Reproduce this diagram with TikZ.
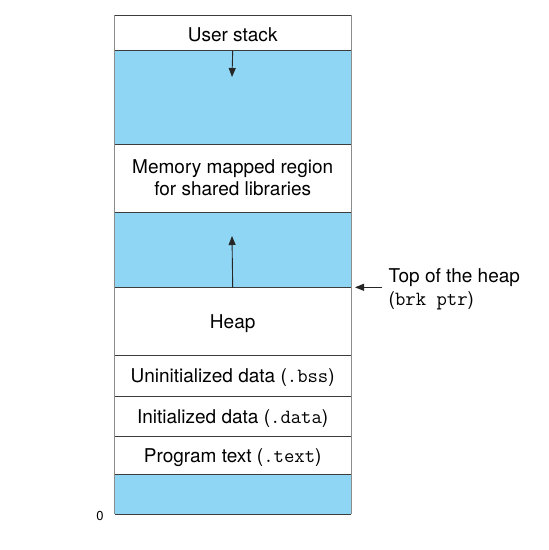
\documentclass[tikz,border=0pt]{standalone}
\usepackage{fontspec}
\setmainfont{TeX Gyre Heros}
\setmonofont[Scale=1.06]{Latin Modern Mono}
\usetikzlibrary{arrows.meta}
\definecolor{segblue}{RGB}{143,214,244}
\definecolor{sideline}{RGB}{140,140,140}
\definecolor{sepline}{RGB}{60,60,60}
\begin{document}
\begin{tikzpicture}[x=1pt,y=-1pt,
  seg/.style={rectangle,inner sep=0pt,minimum width=236pt,anchor=north west},
  segtext/.style={label={[font=\fontsize{19}{22}\selectfont,align=center,yshift=-2pt]center:#1}},
  segtextb/.style={label={[font=\fontsize{19}{22}\selectfont,align=center,yshift=0.5pt]center:#1}},
  blueseg/.style={seg,fill=segblue},
  sep/.style={draw=sepline,line width=0.8pt},
  side/.style={draw=sideline,line width=0.8pt},
  arr/.style={draw=black!85,line width=0.9pt,-{Triangle[length=9pt,width=7pt]}}]
\useasboundingbox (0,0) rectangle (549,550);
\node[seg,minimum height=35.4pt,segtext={User stack}] (stack) at (114.5,15.3) {};
\node[blueseg,minimum height=93.3pt] (blue1) at (114.5,50.7) {};
\node[seg,minimum height=68.3pt,segtextb={Memory mapped region\\for shared libraries}] (mmap) at (114.5,144) {};
\node[blueseg,minimum height=75pt] (blue2) at (114.5,212.3) {};
\node[seg,minimum height=67.7pt,segtext={Heap}] (heap) at (114.5,287.3) {};
\node[seg,minimum height=41pt,segtext={Uninitialized data (\texttt{.bss})}] (bss) at (114.5,355) {};
\node[seg,minimum height=40.7pt,segtext={Initialized data (\texttt{.data})}] (data) at (114.5,396) {};
\node[seg,minimum height=37.3pt,segtext={Program text (\texttt{.text})}] (text) at (114.5,436.7) {};
\node[blueseg,minimum height=40pt] (blue3) at (114.5,474) {};
% sides
\draw[side] (stack.north west) -- (blue3.south west);
\draw[side] (stack.north east) -- (blue3.south east);
% separators
\foreach \n in {stack,blue1,mmap,blue2,heap,bss,data,text,blue3}{
  \draw[sep] (\n.north west) -- (\n.north east);
}
\draw[sep] (blue3.south west) -- (blue3.south east);
% arrows
\coordinate (stacktip) at (232,77);
\coordinate (heaptip) at (232,236);
\draw[arr] (blue1.north) -- (stacktip);
\draw[arr] (blue2.south) -- (heaptip);
% brk label
\node[anchor=west,align=left,inner sep=0pt,font=\fontsize{19}{23}\selectfont] (brk) at (388.5,289) {Top of the heap\\(\texttt{brk ptr})};
\coordinate (brkend) at (355,287.3);
\coordinate (brkstart) at (382,287.3);
\draw[arr] (brkstart) -- (brkend);
\node[font=\fontsize{13}{15}\selectfont,inner sep=0pt] (zero) at (100,515.5) {0};
\end{tikzpicture}
\end{document}
